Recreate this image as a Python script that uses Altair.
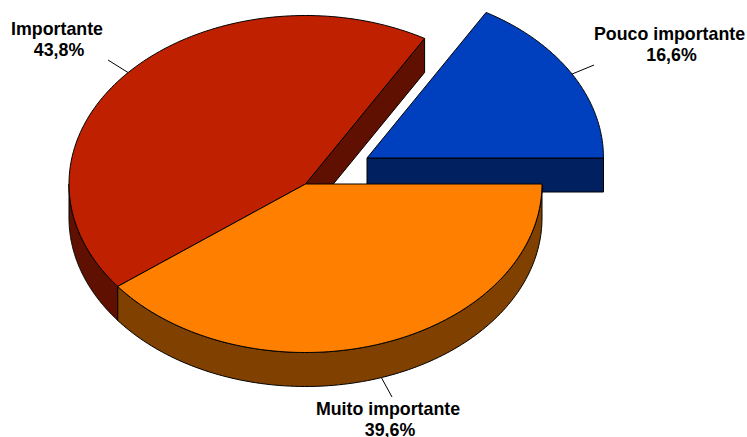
import math
import altair as alt
import pandas as pd

# Survey shares, in percent, and their decimal-comma labels
categories = ["Pouco importante", "Importante", "Muito importante"]
shares = [16.6, 43.8, 39.6]
share_labels = ["16,6%", "43,8%", "39,6%"]

top_colors = ["#0040BF", "#BF2000", "#FF8000"]
side_colors = ["#002060", "#601000", "#804000"]

# Pie geometry in plot units
RX, RY, DEPTH = 236.5, 168.5, 34
centers = [(367, 158), (305.5, 184), (305.5, 184)]
leader_ends = [(594, 65), (108, 60), (392, 397)]
label_anchors = [(669.5, 35), (57, 30), (388, 410)]
LINE_GAP = 21
SHARE_SHIFT = 2

W, H = 747, 437
x_scale = alt.Scale(domain=[0, W], range=[0, W], nice=False, zero=False)
y_scale = alt.Scale(domain=[0, H], range=[0, H], nice=False, zero=False)


def rim(center, a0, a1, dy=0.0, n=120):
    """Points along the ellipse rim between two angles in degrees."""
    cx, cy = center
    pts = []
    for i in range(n + 1):
        t = math.radians(a0 + (a1 - a0) * i / n)
        pts.append((cx + RX * math.cos(t), cy - RY * math.sin(t) + dy))
    return pts


def polygon(points, fill, width=1.0):
    closed = points + [points[0]]
    df = pd.DataFrame(closed, columns=["x", "y"]).assign(i=range(len(closed)))
    return alt.Chart(df).mark_line(
        fill=fill, stroke="#000000", strokeWidth=width, interpolate="linear",
        strokeJoin="miter", clip=False,
    ).encode(
        x=alt.X("x:Q", scale=x_scale, axis=None),
        y=alt.Y("y:Q", scale=y_scale, axis=None),
        order="i:Q",
    )


# Cumulative slice angles, counter-clockwise from the right-hand side
edges = [0.0]
for s in shares:
    edges.append(edges[-1] + s * 3.6)
pou = (edges[0], edges[1])
imp = (edges[1], edges[2])
mui = (edges[2], edges[3])
c_pou, c_imp, c_mui = centers

layers = []

# Detached slice: front wall, then its top
layers.append(polygon(
    [(c_pou[0], c_pou[1]), (c_pou[0] + RX, c_pou[1]),
     (c_pou[0] + RX, c_pou[1] + DEPTH), (c_pou[0], c_pou[1] + DEPTH)],
    side_colors[0]))
layers.append(polygon([c_pou] + rim(c_pou, *pou), top_colors[0]))

# Cut face and outer wall of the red slice
r_start = rim(c_imp, imp[0], imp[0], n=1)[0]
layers.append(polygon(
    [c_imp, r_start, (r_start[0], r_start[1] + DEPTH),
     (c_imp[0], c_imp[1] + DEPTH)],
    side_colors[1]))
wall_a0 = 180.0
layers.append(polygon(
    rim(c_imp, wall_a0, imp[1]) + rim(c_imp, imp[1], wall_a0, dy=DEPTH),
    side_colors[1]))

# Outer wall of the orange slice
layers.append(polygon(
    rim(c_mui, mui[0], mui[1]) + rim(c_mui, mui[1], mui[0], dy=DEPTH),
    side_colors[2]))

# Top faces
layers.append(polygon([c_imp] + rim(c_imp, *imp), top_colors[1]))
layers.append(polygon([c_mui] + rim(c_mui, *mui), top_colors[2]))

# Leader lines start from the rim at each slice's mid-angle
leaders = []
for i in range(3):
    mid = (edges[i] + edges[i + 1]) / 2
    px, py = rim(centers[i], mid, mid, n=1)[0]
    if i == 2:
        py += DEPTH
    leaders.append({"x": px, "y": py, "x2": leader_ends[i][0], "y2": leader_ends[i][1]})
layers.append(
    alt.Chart(pd.DataFrame(leaders)).mark_rule(color="#000000", strokeWidth=1).encode(
        x=alt.X("x:Q", scale=x_scale, axis=None),
        y=alt.Y("y:Q", scale=y_scale, axis=None),
        x2="x2:Q",
        y2="y2:Q",
    )
)

# Two-line labels: category name over its share
rows = []
for name, pct, (lx, ly) in zip(categories, share_labels, label_anchors):
    rows.append({"x": lx, "y": ly, "t": name})
    rows.append({"x": lx + SHARE_SHIFT, "y": ly + LINE_GAP, "t": pct})
layers.append(
    alt.Chart(pd.DataFrame(rows)).mark_text(
        font="Liberation Sans", fontWeight="bold", fontSize=17.8,
        color="#000000", align="center", baseline="middle",
    ).encode(
        x=alt.X("x:Q", scale=x_scale, axis=None),
        y=alt.Y("y:Q", scale=y_scale, axis=None),
        text="t:N",
    )
)

chart = alt.layer(*layers).properties(
    width=W, height=H, padding=0, autosize=alt.AutoSizeParams(type="none"),
    background="#FFFFFF",
).configure_view(stroke=None)

chart.save("out.html", embed_options={"renderer": "svg", "actions": False})
